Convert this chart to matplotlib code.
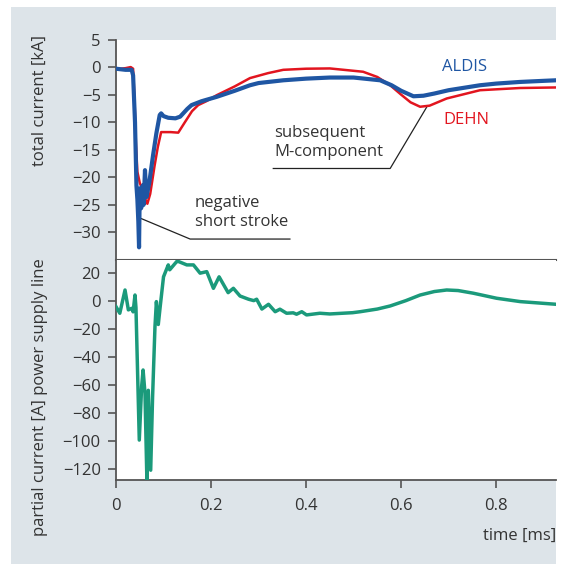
import matplotlib.pyplot as plt
from matplotlib.patches import Rectangle
from matplotlib.lines import Line2D

plt.rcParams['font.family'] = ['Open Sans', 'DejaVu Sans']

# total current, ALDIS (blue), time in ms / current in kA
aldis_t = [0.0, 0.01, 0.02, 0.033, 0.036, 0.04, 0.043, 0.045, 0.047, 0.0485, 0.05,
           0.053, 0.056, 0.058, 0.061, 0.064, 0.07, 0.078, 0.085, 0.092,
           0.095, 0.1, 0.11, 0.125, 0.135, 0.15, 0.159, 0.18, 0.212, 0.25,
           0.282, 0.3, 0.352, 0.4, 0.45, 0.5, 0.556, 0.58, 0.6, 0.626, 0.647,
           0.67, 0.7, 0.766, 0.8, 0.85, 0.9, 0.926]
aldis_v = [-0.3, -0.4, -0.5, -0.5, -1.5, -10, -21.5, -24, -28, -32.7, -22,
           -25.6, -21.5, -25, -18.7, -23.6, -21, -16, -12, -8.7,
           -8.4, -8.9, -9.2, -9.3, -9.0, -7.6, -6.9, -6.2, -5.4, -4.3,
           -3.3, -2.9, -2.4, -2.1, -1.9, -1.9, -2.4, -3.3, -4.3, -5.3, -5.2,
           -4.8, -4.2, -3.3, -3.0, -2.7, -2.5, -2.4]

# total current, DEHN (red)
dehn_t = [0.0, 0.01, 0.02, 0.031, 0.036, 0.039, 0.042, 0.045, 0.05, 0.057, 0.062,
          0.066, 0.072, 0.081, 0.088, 0.095, 0.1, 0.115, 0.131, 0.145,
          0.16, 0.173, 0.19, 0.212, 0.25, 0.282, 0.32, 0.352, 0.4, 0.45, 0.52,
          0.55, 0.577, 0.6, 0.62, 0.64, 0.66, 0.696, 0.766, 0.85, 0.926]
dehn_v = [-0.3, -0.3, -0.2, 0.0, -0.3, -6, -14, -19, -21, -22.5, -24,
          -24.8, -23, -18, -14.5, -11.8, -11.8, -11.8, -11.9, -10,
          -8, -6.9, -6.2, -5.1, -3.5, -2.0, -1.1, -0.5, -0.3, -0.25, -0.85,
          -1.8, -3.3, -5.0, -6.4, -7.2, -7.0, -5.7, -4.2, -3.8, -3.7]

# partial current on the power supply line (green), A
part_t = [0.0, 0.008, 0.019, 0.026, 0.033, 0.036, 0.04, 0.042, 0.049, 0.054,
          0.057, 0.061, 0.065, 0.068, 0.073, 0.077, 0.082, 0.085, 0.089, 0.093,
          0.1, 0.11, 0.113, 0.128, 0.131, 0.149, 0.163, 0.177, 0.191, 0.205,
          0.217, 0.236, 0.247, 0.261, 0.279, 0.29, 0.296, 0.307, 0.321, 0.335,
          0.345, 0.359, 0.373, 0.38, 0.391, 0.401, 0.429, 0.45, 0.498, 0.514,
          0.55, 0.577, 0.61, 0.64, 0.67, 0.696, 0.72, 0.752, 0.801, 0.851, 0.926]
part_v = [-4.3, -9, 7.6, -6.6, -5.5, -8, 4, -5, -99.5, -61,
          -49.5, -66, -128, -64, -121, -68.6, -18.6, -0.7, -17, -4.3,
          17, 25.5, 22, 28, 28, 25.5, 25.5, 19.6, 20.7, 8.8,
          17, 5.7, 8.8, 3.3, 1, 0, 1, -6, -2.6, -7.9,
          -6.1, -9, -8.7, -9.7, -7.9, -10.2, -9, -9.5, -8.6, -7.9,
          -6, -3.8, 0, 4, 6.5, 7.6, 7.2, 5.3, 1.7, -0.7, -2.6]

blue = '#1f56a3'
red = '#e2151f'
green = '#1b9a7b'
axis_col = '#555555'
text_col = '#333333'

fig = plt.figure(figsize=(5.73, 5.64), dpi=100)
fig.patches.append(Rectangle((11 / 573, 0), 545 / 573, 1 - 7 / 564,
                             transform=fig.transFigure, facecolor='#dde4e9',
                             edgecolor='none', zorder=-10))

ax1 = fig.add_axes([116 / 573, 1 - 260 / 564, 440 / 573, 220.5 / 564])
ax2 = fig.add_axes([116 / 573, 1 - 480 / 564, 440 / 573, 220 / 564])

for ax in (ax1, ax2):
    ax.set_facecolor('white')
    ax.set_xlim(0, 0.926)
    for s in ('top', 'right'):
        ax.spines[s].set_visible(False)
    for s in ('left', 'bottom'):
        ax.spines[s].set_color(axis_col)
        ax.spines[s].set_linewidth(1.3)
    ax.tick_params(direction='out', length=6, width=1.2, color=axis_col,
                   labelsize=12, labelcolor=text_col, pad=5)

ax1.plot(dehn_t, dehn_v, color=red, lw=1.8, zorder=3)
ax1.plot(aldis_t, aldis_v, color=blue, lw=3.0, zorder=4)
ax1.set_ylim(-35, 5)
ax1.set_yticks([5, 0, -5, -10, -15, -20, -25, -30])
ax1.set_xticks([])
ax1.spines['bottom'].set_linewidth(1.5)

ax2.plot(part_t, part_v, color=green, lw=2.5, zorder=3)
ax2.set_ylim(-128, 29)
ax2.set_yticks([20, 0, -20, -40, -60, -80, -100, -120])
ax2.set_xticks([0, 0.2, 0.4, 0.6, 0.8])
ax2.set_xticklabels(['0', '0.2', '0.4', '0.6', '0.8'])
ax2.tick_params(axis='x', pad=7)

# annotations
ax1.text(0.686, 0.05, 'ALDIS', color=blue, fontsize=12, va='center', ha='left')
ax1.text(0.688, -9.6, 'DEHN', color=red, fontsize=12, va='center', ha='left')
ax1.text(0.333, -13.75, 'subsequent\nM-component', color=text_col, fontsize=12,
         va='center', ha='left', linespacing=1.25)
ax1.add_line(Line2D([0.331, 0.577, 0.655], [-18.4, -18.4, -7.1],
                    color='#222222', lw=0.9))
ax1.text(0.166, -26.45, 'negative\nshort stroke', color=text_col, fontsize=12,
         va='center', ha='left', linespacing=1.25)
ax1.add_line(Line2D([0.366, 0.156, 0.048], [-31.2, -31.2, -27.3],
                    color='#222222', lw=0.9))

fig.text(40 / 573, 1 - 100 / 564, 'total current [kA]', rotation=90,
         ha='center', va='center', fontsize=12, color=text_col)
fig.text(40 / 573, 1 - 397 / 564, 'partial current [A] power supply line',
         rotation=90, ha='center', va='center', fontsize=12, color=text_col)
fig.text(556 / 573, 1 - 536 / 564, 'time [ms]', ha='right', va='center',
         fontsize=12, color=text_col)

fig.savefig('out.png', dpi=100, facecolor='white')
